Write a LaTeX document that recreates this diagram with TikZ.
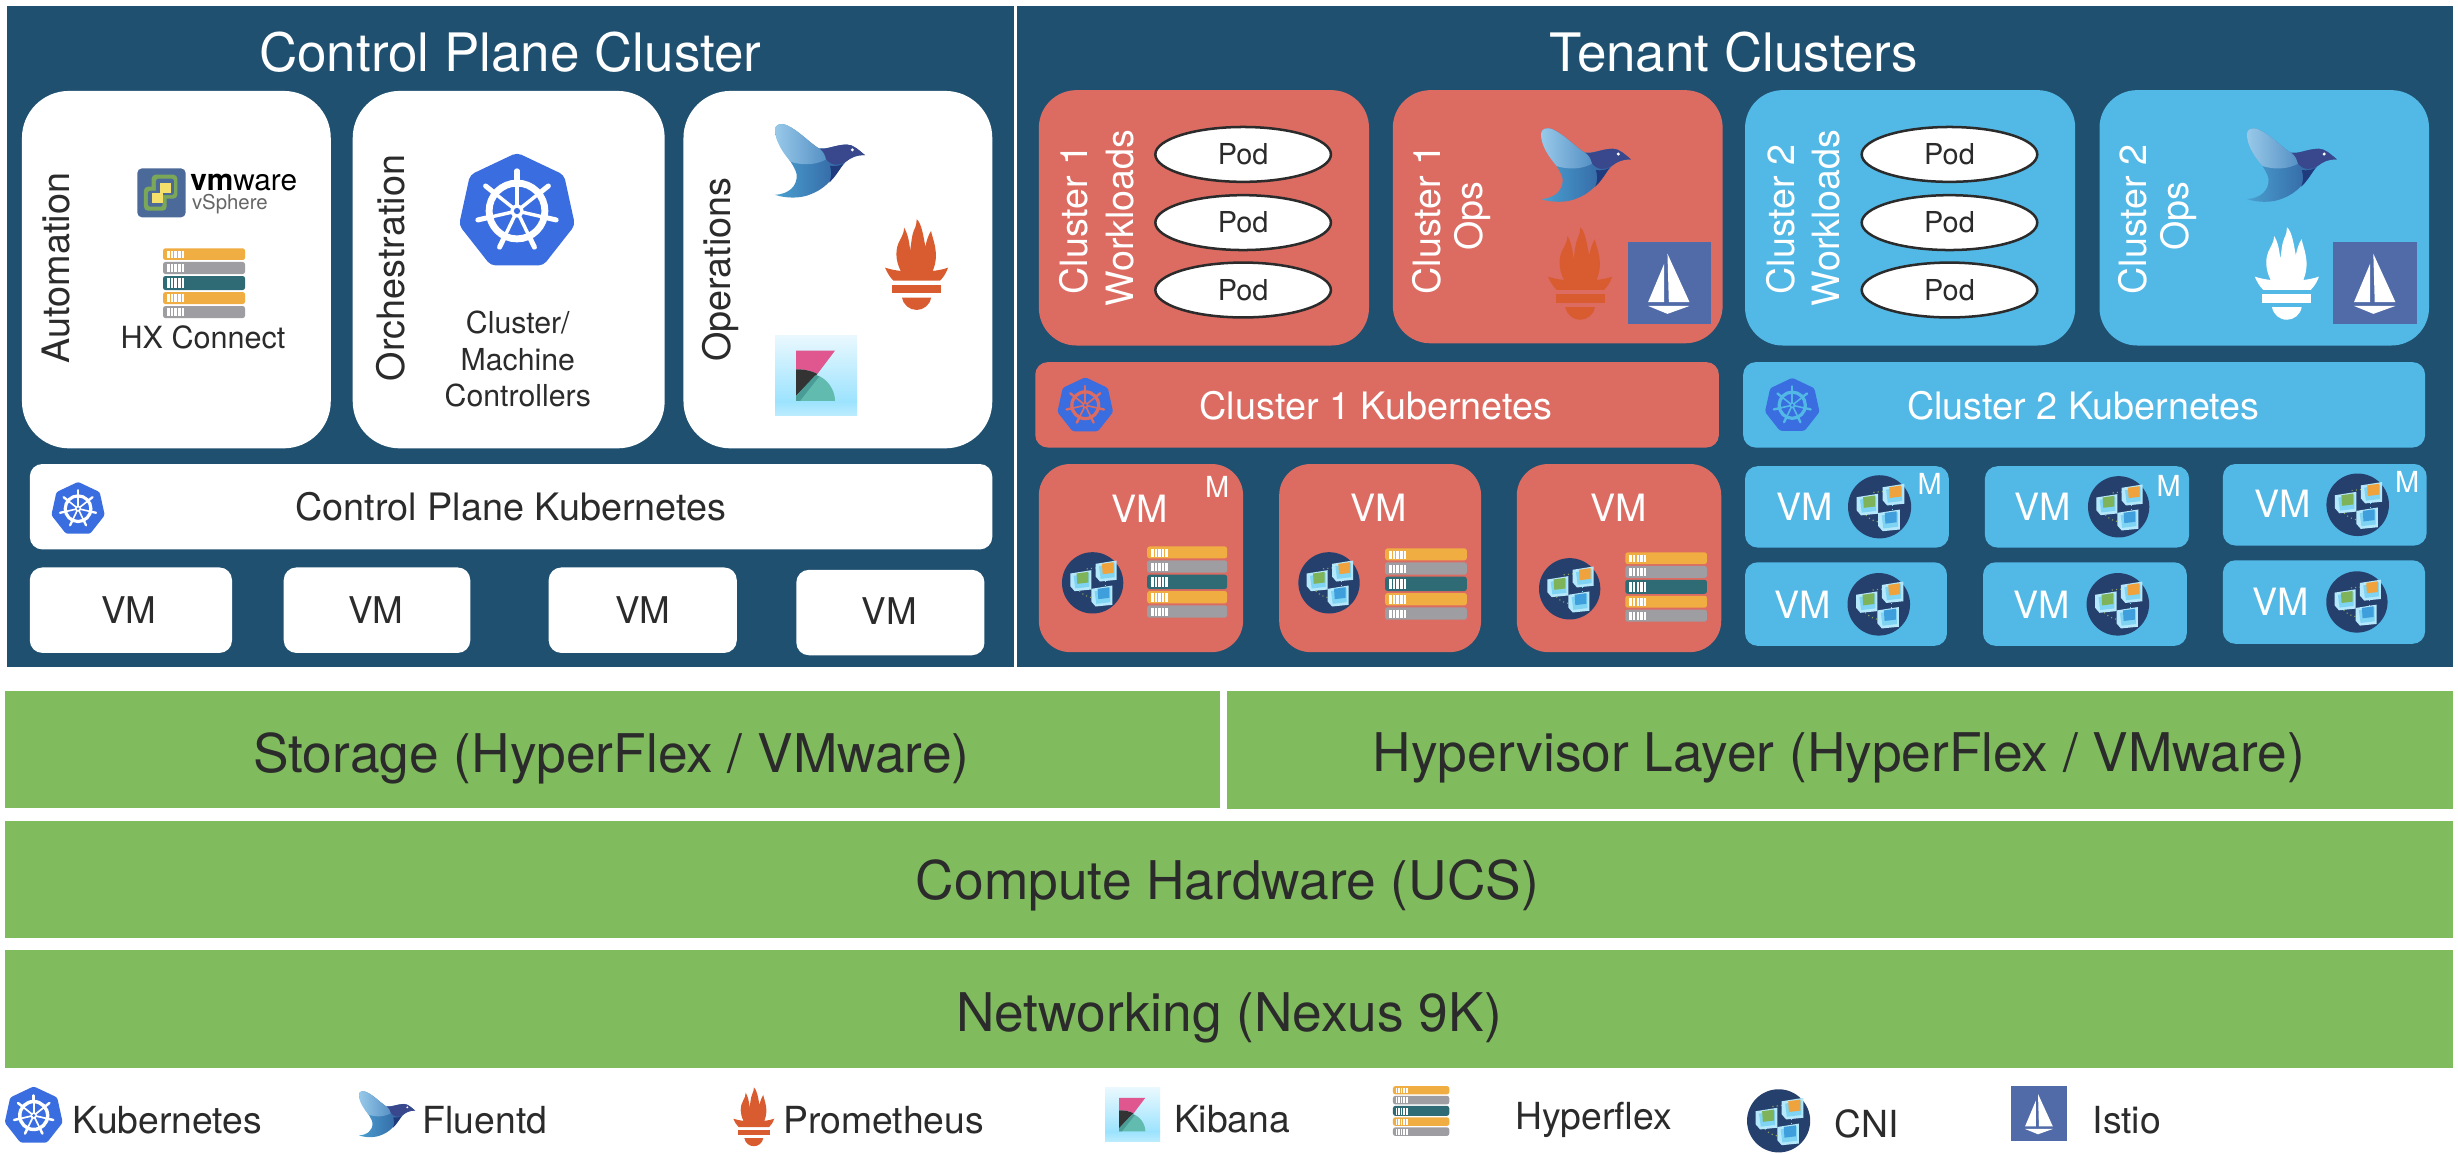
\documentclass[tikz,border=0pt]{standalone}
\usepackage{fontspec}
\setmainfont{TeX Gyre Heros}
\usetikzlibrary{shapes.geometric}
\definecolor{panel}{HTML}{1F5070}
\definecolor{coral}{HTML}{DC6B62}
\definecolor{sky}{HTML}{52B8E6}
\definecolor{leaf}{HTML}{80BB5E}
\definecolor{kblue}{HTML}{3A6DE0}
\definecolor{ink}{HTML}{2B2B2B}
\definecolor{hxo}{HTML}{F0AD41}
\definecolor{hxg}{HTML}{9E9DA2}
\definecolor{hxt}{HTML}{2F6B75}
\definecolor{fire}{HTML}{D95C31}
\definecolor{istioblue}{HTML}{506BA8}
\definecolor{cnibg}{HTML}{26406E}
\definecolor{birdA}{HTML}{4AA0D0}
\definecolor{birdB}{HTML}{2B4F93}
\definecolor{birdC}{HTML}{98C9E9}
\definecolor{birdD}{HTML}{5590C4}
\definecolor{birdE}{HTML}{1F3B7E}
\definecolor{birdF}{HTML}{39488C}
\definecolor{kibA}{HTML}{E9F8FE}
\definecolor{kibB}{HTML}{9CE3FE}
\definecolor{kibC}{HTML}{BCECFE}
\definecolor{kibD}{HTML}{E0568F}
\definecolor{kibE}{HTML}{62BBAF}
\definecolor{kibF}{HTML}{333333}
\definecolor{kibG}{HTML}{4A9C97}
\definecolor{cubeA}{HTML}{B5E8FA}
\definecolor{cubeB}{HTML}{7FD3F3}
\definecolor{cubeG}{HTML}{7EB35A}
\definecolor{cubeO}{HTML}{F0A23C}
\definecolor{cubeC}{HTML}{3F9FDC}
\definecolor{cubeD}{HTML}{8FA35A}
\definecolor{vsA}{HTML}{4C6A99}
\definecolor{vsB}{HTML}{7BA858}
\definecolor{vsC}{HTML}{F5E06B}
\tikzset{
  sz/.style={font=\fontsize{#1}{#1}\selectfont},
  lbl/.style={inner sep=0pt,text=ink,align=center,sz=#1},
  wlbl/.style={inner sep=0pt,text=white,align=center,sz=#1},
  rlbl/.style={lbl=#1,rotate=90},
  rwlbl/.style={wlbl=#1,rotate=90},
  big/.style={rounded corners=30pt},
  mid/.style={rounded corners=24pt},
  vmr/.style={rounded corners=20pt},
  small/.style={rounded corners=8pt},
  podnode/.style={shape=ellipse,draw=ink,line width=1.6pt,fill=white,minimum width=112pt,minimum height=35pt,inner sep=0pt,text=ink,sz=18.4},
}
\newcommand{\rrect}[5][]{\path[#1] (#2,#3) rectangle (#4,#5);}
% Kubernetes heptagon: centre, scale, wheel colour
\newcommand{\kube}[4]{%
\begin{scope}[shift={(#1,#2)},scale=#3]
\fill[kblue,rounded corners=#3*3pt] (0,-37.2)--(30,-23)--(37,9)--(16.8,34.7)--(-16.8,34.7)--(-37,9)--(-30,-23)--cycle;
\draw[#4,line width=#3*4.4pt] (0,0) circle[radius=17.8];
\foreach \a in {-90,-38.57,12.86,64.29,115.71,167.14,218.57}{
  \draw[#4,line width=#3*2.2pt] (0,0) -- (\a:20);
  \draw[#4,line width=#3*3.2pt,line cap=round] (\a:17) -- (\a:25.6);
}
\fill[#4] (0,0) circle[radius=4.2];
\fill[kblue] (0,0) circle[radius=2];
\end{scope}}
% Fluentd bird: top-left corner, scale
\newcommand{\bird}[3]{%
\begin{scope}[shift={(#1,#2)},scale=#3*.2126,shift={(-105,-72)}]
\shade[left color=birdA,right color=birdB] (105,90) .. controls (105,75) and (120,68) .. (140,76)
 .. controls (175,92) and (205,125) .. (235,145)
 .. controls (260,150) and (285,135) .. (320,134)
 .. controls (340,134) and (355,150) .. (375,166)
 .. controls (350,165) and (335,172) .. (318,185)
 .. controls (290,215) and (270,260) .. (215,282)
 .. controls (180,298) and (135,295) .. (105,285)
 .. controls (145,283) and (172,260) .. (170,225)
 .. controls (165,190) and (105,135) .. (105,90) -- cycle;
\shade[left color=birdC,right color=birdD] (105,90) .. controls (105,75) and (120,68) .. (140,76)
 .. controls (175,92) and (205,125) .. (235,145)
 .. controls (250,155) and (258,165) .. (260,178)
 .. controls (230,195) and (190,198) .. (152,186)
 .. controls (130,160) and (105,125) .. (105,90) -- cycle;
\fill[birdE] (270,198) .. controls (285,200) and (300,198) .. (310,192) .. controls (295,215) and (285,232) .. (268,248) .. controls (275,230) and (275,215) .. (270,198) -- cycle;
\fill[birdF] (258,178) .. controls (255,165) and (250,155) .. (240,146)
 .. controls (262,150) and (285,135) .. (320,134)
 .. controls (340,134) and (355,150) .. (375,166)
 .. controls (350,165) and (335,172) .. (318,185)
 .. controls (300,198) and (275,200) .. (258,178) -- cycle;
\fill[white] (337,150) circle[radius=5];
\end{scope}}
% Prometheus torch
\newcommand{\torch}[4]{%
\begin{scope}[shift={(#1,#2)},scale=#3*.2126,shift={(-435,-358)}]
\fill[#4] (435,503) .. controls (450,508) and (465,511) .. (482,513)
 .. controls (465,480) and (465,445) .. (480,420)
 .. controls (488,405) and (492,395) .. (492,383)
 .. controls (500,395) and (508,420) .. (510,452)
 .. controls (514,430) and (515,405) .. (522,390)
 .. controls (528,378) and (530,368) .. (530,358)
 .. controls (545,370) and (550,410) .. (556,440)
 .. controls (560,420) and (565,405) .. (573,393)
 .. controls (578,420) and (600,460) .. (578,513)
 .. controls (595,511) and (610,508) .. (624,503)
 .. controls (618,520) and (610,532) .. (600,542)
 -- (460,542) .. controls (450,532) and (442,520) .. (435,503) -- cycle;
\fill[#4] (457,554) rectangle (602,580);
\fill[#4] (486,593) -- (573,593) .. controls (570,615) and (550,630) .. (530,630) .. controls (508,630) and (490,615) .. (486,593) -- cycle;
\end{scope}}
% Kibana tile
\newcommand{\kibana}[3]{%
\begin{scope}[shift={(#1,#2)},scale=#3*.2126,shift={(-105,-708)}]
\shade[top color=kibA,bottom color=kibB] (105,708) rectangle (351,905);
\shade[top color=kibB,bottom color=kibC] (105,904) rectangle (351,947);
\fill[kibD] (168,752)--(285,752)--(232,822) .. controls (215,812) and (190,808) .. (168,808) -- cycle;
\fill[kibE] (168,903) -- (228,825) .. controls (262,835) and (285,870) .. (285,903) -- cycle;
\fill[kibF] (168,808) .. controls (190,808) and (215,812) .. (232,822) -- (168,888) -- cycle;
\fill[kibG] (168,888)--(226,826)--(238,829)--(180,903)--(168,903)--cycle;
\end{scope}}
% Istio tile
\newcommand{\istio}[3]{%
\begin{scope}[shift={(#1,#2)},scale=#3,xscale=.2929,yscale=.2523,shift={(-1323,-460)}]
\fill[istioblue] (1323,460) rectangle (1505,667);
\fill[white] (1410,490)--(1458,612)--(1413,612)--cycle;
\fill[white] (1403,515)--(1403,612)--(1368,612)--cycle;
\fill[white] (1368,622)--(1458,622)--(1410,642)--cycle;
\end{scope}}
% one small cube of the CNI badge
\newcommand{\cubeicon}[3]{%
\begin{scope}[shift={(#1,#2)}]
\fill[cubeA] (-30,-22)--(33,-32)--(33,26)--(-17,31)--(-30,16)--cycle;
\fill[cubeB] (-20,-15)--(27,-24)--(27,18)--(-15,23)--cycle;
\fill[#3] (-11,-22)--(24,-27)--(24,5)--(-9,9)--cycle;
\end{scope}}
\newcommand{\cni}[3]{%
\begin{scope}[shift={(#1,#2)},scale=#3*.2126]
\fill[cnibg] (0,0) circle[radius=92];
\draw[cubeD,dotted,line width=#3*.7pt] (-18,-42) -- (12,-45);
\draw[cubeD,dotted,line width=#3*.7pt] (-40,24) .. controls (-30,36) and (-15,42) .. (-4,44);
\draw[cubeB,dotted,line width=#3*.7pt] (38,-5) -- (38,8);
\cubeicon{-37}{-6}{cubeG}
\cubeicon{39}{-35}{cubeO}
\cubeicon{26}{40}{cubeC}
\end{scope}}
% HyperFlex stack: x0,y0,x1,y1
\newcommand{\hxstack}[4]{%
\begin{scope}[shift={(#1,#2)},xscale=(#3-#1)/246,yscale=(#4-#2)/209]
\foreach \ya/\yb/\cc in {0/35/hxo,41/77/hxg,83/125/hxt,131/167/hxo,173/209/hxg}{
  \fill[\cc,rounded corners=1.5pt] (0,\ya) rectangle (246,\yb);
  \foreach \tk in {12,23,34,45,56}{ \fill[white] (\tk,\ya+7) rectangle (\tk+7.5,\yb-5); }
}
\end{scope}}
\begin{document}
\begin{tikzpicture}[x=1pt,y=-1pt]
\useasboundingbox (0,0) rectangle (1568,736.15);
\fill[white] (0,0) rectangle (1568,736.15);
% panels
\fill[panel] (4.6,4) rectangle (646.6,425.5);
\fill[panel] (649,4) rectangle (1565,425.5);
\node[wlbl=33.8] (cptitle) at (325.5,33) {Control Plane Cluster};
\node[wlbl=33.8] (tenanttitle) at (1106,33) {Tenant Clusters};
% control plane
\rrect[fill=white,big]{14}{58}{211}{286}
\rrect[fill=white,big]{225}{58}{424}{286}
\rrect[fill=white,big]{436}{58}{633}{286}
\node[rlbl=24.1] (automation) at (36,171) {Automation};
\node[rlbl=24.1] (orchestration) at (249,171) {Orchestration};
\node[rlbl=24.1] (operations) at (459.3,172) {Operations};
% vSphere
\begin{scope}[shift={(87.6,107.4)},scale=.2126,shift={(-52,-55)}]
\fill[vsA,rounded corners=3pt] (52,55) rectangle (197,202);
\fill[vsB,rounded corners=2.5pt] (72,110) rectangle (140,182);
\fill[vsB,rounded corners=2.5pt] (95,74) rectangle (172,146);
\fill[vsA,rounded corners=1.5pt] (84,122) rectangle (128,170);
\fill[vsA,rounded corners=1.5pt] (108,86) rectangle (162,135);
\fill[vsC] (96,128) rectangle (128,160);
\fill[vsC] (120,98) rectangle (153,130);
\end{scope}
\node[inner sep=0pt,anchor=west,text=black,sz=19] (vmware) at (121.2,116.5) {\textbf{vm}ware};
\node[inner sep=0pt,anchor=west,text=black!60,sz=13] (vsphere) at (122.3,130.3) {vSphere};
\hxstack{104}{158.4}{156.3}{202.9}
\node[lbl=19.5] (hxconnect) at (129.5,215.3) {HX Connect};
\kube{329.8}{134.6}{1}{white}
\node[lbl=19.3] (c1) at (330.3,206) {Cluster/};
\node[lbl=19.3] (c2) at (330.3,229.2) {Machine};
\node[lbl=19.3] (c3) at (330.3,252.2) {Controllers};
\bird{494.4}{79}{1}
\torch{564.6}{139.9}{1}{fire}
\kibana{494.4}{214.3}{1}
\rrect[fill=white,small]{19}{296}{633}{350.5}
\kube{49.8}{324.5}{.46}{white}
\node[lbl=24.1] (cpk) at (326,323.5) {Control Plane Kubernetes};
\rrect[fill=white,small]{19}{362}{148}{416.5}
\rrect[fill=white,small]{181}{362}{300}{416.5}
\rrect[fill=white,small]{350}{362}{470}{416.5}
\rrect[fill=white,small]{508}{363.5}{628}{418}
\node[lbl=23.5] (cpvm1) at (82.2,389) {VM};
\node[lbl=23.5] (cpvm2) at (239.8,389) {VM};
\node[lbl=23.5] (cpvm3) at (410,389) {VM};
\node[lbl=23.5] (cpvm4) at (567.2,390) {VM};
% cluster 1
\rrect[fill=coral,mid]{662.7}{57.5}{873.3}{220.4}
\rrect[fill=coral,mid]{888.5}{57.5}{1098.9}{219}
\node[rwlbl=24] (c1w1) at (685,140) {Cluster 1};
\node[rwlbl=24] (c1w2) at (714.5,139) {Workloads};
\node[podnode] (p11) at (793,98.5) {Pod};
\node[podnode] (p12) at (793,142) {Pod};
\node[podnode] (p13) at (793,185) {Pod};
\node[rwlbl=24] (c1o1) at (910,140) {Cluster 1};
\node[rwlbl=24] (c1o2) at (939.2,138) {Ops};
\bird{983}{81.7}{1}
\torch{987.5}{145}{1.02}{fire}
\istio{1038.2}{154.3}{1}
\rrect[fill=coral,small]{660.4}{231}{1096.5}{285.5}
\kube{692.3}{258.5}{.48}{coral}
\node[wlbl=24.1] (c1k) at (877.7,258.5) {Cluster 1 Kubernetes};
\rrect[fill=coral,vmr]{662.7}{296}{793}{416}
\rrect[fill=coral,vmr]{816}{296}{944.8}{416}
\rrect[fill=coral,vmr]{967.6}{296}{1098}{416}
\node[wlbl=24] (c1v1) at (726.9,324.6) {VM};
\node[wlbl=24] (c1v2) at (879.2,324) {VM};
\node[wlbl=24] (c1v3) at (1032.4,324) {VM};
\node[wlbl=18.5] (c1m) at (776.4,310.7) {M};
\cni{697}{371.8}{1}
\cni{847.8}{371.8}{1}
\cni{1001.3}{375.6}{1}
\hxstack{731.8}{348.6}{782.8}{394}
\hxstack{883.6}{349.8}{935.7}{395.3}
\hxstack{1036.8}{352.4}{1088.9}{396.5}
% cluster 2
\rrect[fill=sky,mid]{1113.2}{57.5}{1323.8}{220.4}
\rrect[fill=sky,mid]{1339.3}{57.5}{1549.5}{220.4}
\node[rwlbl=24] (c2w1) at (1135.7,140) {Cluster 2};
\node[rwlbl=24] (c2w2) at (1165,139) {Workloads};
\node[podnode] (p21) at (1243.6,98.5) {Pod};
\node[podnode] (p22) at (1243.6,142) {Pod};
\node[podnode] (p23) at (1243.6,185) {Pod};
\node[rwlbl=24] (c2o1) at (1360.3,140) {Cluster 2};
\node[rwlbl=24] (c2o2) at (1389.5,138) {Ops};
\bird{1433.3}{81.7}{1}
\torch{1438.3}{145}{1.02}{white}
\istio{1488.5}{154.3}{1}
\rrect[fill=sky,small]{1112}{231}{1547}{285.5}
\kube{1143.3}{258.5}{.47}{sky}
\node[wlbl=24.1] (c2k) at (1329,258.5) {Cluster 2 Kubernetes};
\rrect[fill=sky,small]{1113.2}{297.4}{1243.2}{349.3}
\rrect[fill=sky,small]{1266.2}{297.4}{1396.5}{349.3}
\rrect[fill=sky,small]{1418}{296}{1548}{348}
\rrect[fill=sky,small]{1113.2}{358.7}{1242}{412}
\rrect[fill=sky,small]{1265}{358.7}{1395}{412}
\rrect[fill=sky,small]{1418}{357.4}{1547}{410.7}
\node[wlbl=24] (c2v1) at (1151,323.3) {VM};
\node[wlbl=24] (c2v2) at (1302.8,323.3) {VM};
\node[wlbl=24] (c2v3) at (1456,321.5) {VM};
\node[wlbl=24] (c2v4) at (1149.7,385.5) {VM};
\node[wlbl=24] (c2v5) at (1302.2,385.5) {VM};
\node[wlbl=24] (c2v6) at (1454.6,384) {VM};
\cni{1199}{323.3}{1.03}
\cni{1351.5}{323.3}{1}
\cni{1504}{322}{1.02}
\cni{1198.5}{385.5}{1.02}
\cni{1351}{385.5}{1.02}
\cni{1503.5}{384}{1}
\node[wlbl=18.5] (c2m1) at (1231,309) {M};
\node[wlbl=18.5] (c2m2) at (1383.4,310) {M};
\node[wlbl=18.5] (c2m3) at (1535.5,307.5) {M};
% green layers
\fill[leaf] (3,441) rectangle (778,515.5);
\fill[leaf] (783,441) rectangle (1565,516);
\fill[leaf] (3,524) rectangle (1565,598.5);
\fill[leaf] (3,606) rectangle (1565,681);
\node[lbl=34] (storage) at (390,483.5) {Storage (HyperFlex / VMware)};
\node[lbl=34] (hyper) at (1173,483.5) {Hypervisor Layer (HyperFlex / VMware)};
\node[lbl=34] (compute) at (783,565) {Compute Hardware (UCS)};
\node[lbl=34] (net) at (784,649) {Networking (Nexus 9K)};
% legend
\kube{21.5}{711.6}{.5}{white}
\node[lbl=23.8] (lk) at (106.8,714.5) {Kubernetes};
\bird{229}{696}{.625}
\node[lbl=23.8] (lf) at (309.4,714.5) {Fluentd};
\torch{467.8}{693.6}{.65}{fire}
\node[lbl=23.8] (lp) at (563.7,714.5) {Prometheus};
\kibana{705}{694}{.67}
\node[lbl=23.8] (lki) at (786,714) {Kibana};
\hxstack{888.6}{692.8}{924.5}{724.6}
\node[lbl=23.8] (lh) at (1016.5,714.5) {Hyperflex};
\cni{1134.6}{715}{1.03}
\node[lbl=23.8] (lc) at (1190.5,717) {CNI};
\istio{1283}{692.8}{.67}
\node[lbl=23.8] (li) at (1356.7,714.5) {Istio};
\end{tikzpicture}
\end{document}
